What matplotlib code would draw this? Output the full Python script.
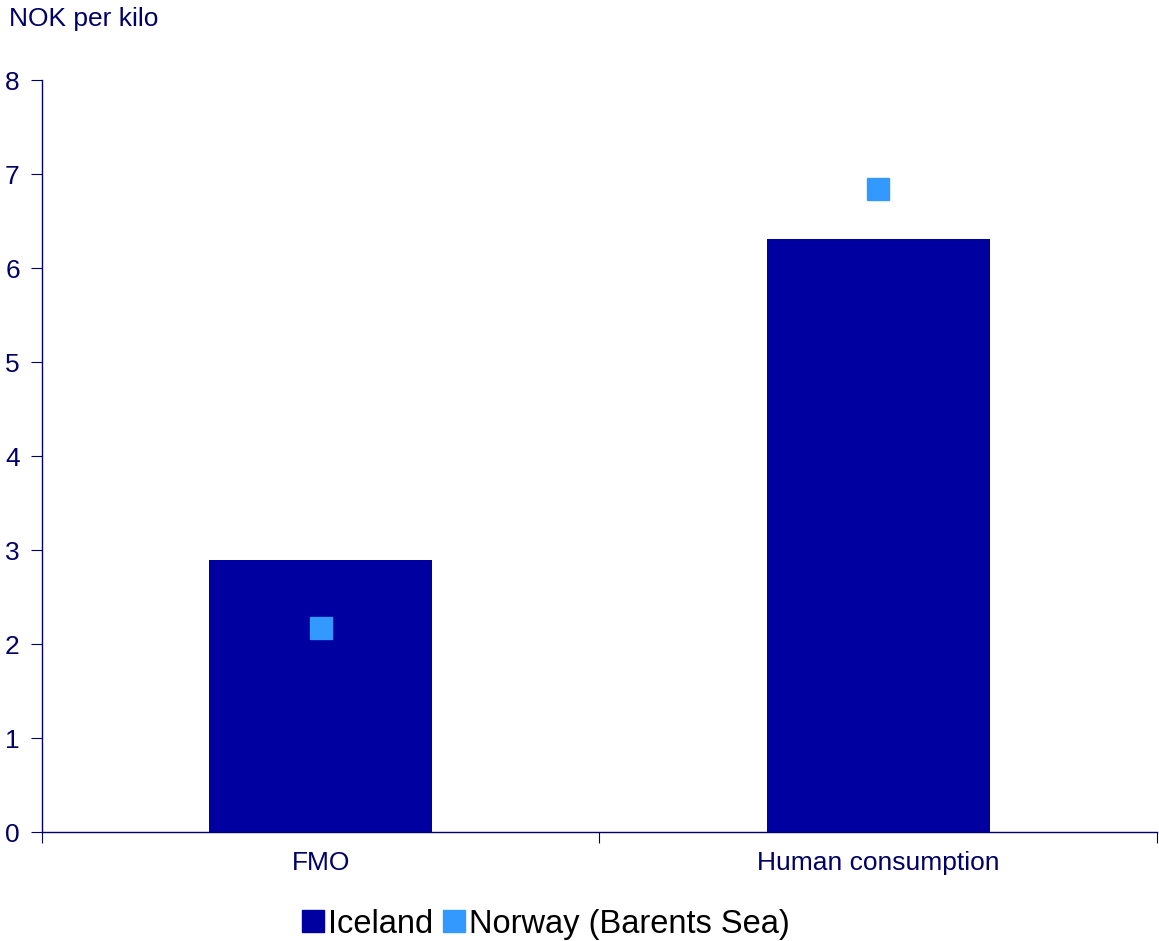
import matplotlib.pyplot as plt
from matplotlib.lines import Line2D

plt.rcParams['font.family'] = ['Liberation Sans', 'DejaVu Sans']

categories = ['FMO', 'Human consumption']
iceland = [2.89, 6.31]
norway = [2.17, 6.84]

navy = '#000066'
bar_col = '#0000A0'
dot_col = '#3399FF'

fig = plt.figure(figsize=(11.59, 9.41), dpi=100)
ax = fig.add_axes([0.03624, 0.11583, 0.96203, 0.79915])

x = list(range(len(categories)))
ax.bar(x, iceland, width=0.4, color=bar_col, zorder=2)
ax.plot(x, norway, linestyle='none', marker='s', markersize=16,
        color=dot_col, zorder=3)

ax.set_xlim(-0.5, 1.5)
ax.set_ylim(0, 8)
ax.set_yticks(range(0, 9))
ax.set_xticks([-0.5, 0.5, 1.5])
ax.set_xticklabels([])
ax.set_xticks(x, minor=True)
ax.set_xticklabels(categories, minor=True)
ax.tick_params(axis='x', which='minor', length=0, pad=14, labelsize=19, labelcolor=navy)
ax.tick_params(axis='x', which='major', length=8, color=navy, direction='out')
ax.tick_params(axis='y', length=8, color=navy, labelsize=19, labelcolor=navy, pad=8)

for s in ['top', 'right']:
    ax.spines[s].set_visible(False)
for s in ['left', 'bottom']:
    ax.spines[s].set_color(navy)
    ax.spines[s].set_linewidth(1)

fig.text(0.008, 0.980, 'NOK per kilo', fontsize=19, color=navy, va='center', ha='left')

handles = [
    Line2D([], [], linestyle='none', marker='s', markersize=16, color=bar_col),
    Line2D([], [], linestyle='none', marker='s', markersize=16, color=dot_col),
]
fig.legend(handles, ['Iceland', 'Norway (Barents Sea)'], loc='center',
           bbox_to_anchor=(0.471, 0.018), ncol=2, frameon=False, fontsize=23.5,
           handlelength=0.7, handletextpad=0.1, columnspacing=0.3)

fig.savefig('out.png', dpi=100)
